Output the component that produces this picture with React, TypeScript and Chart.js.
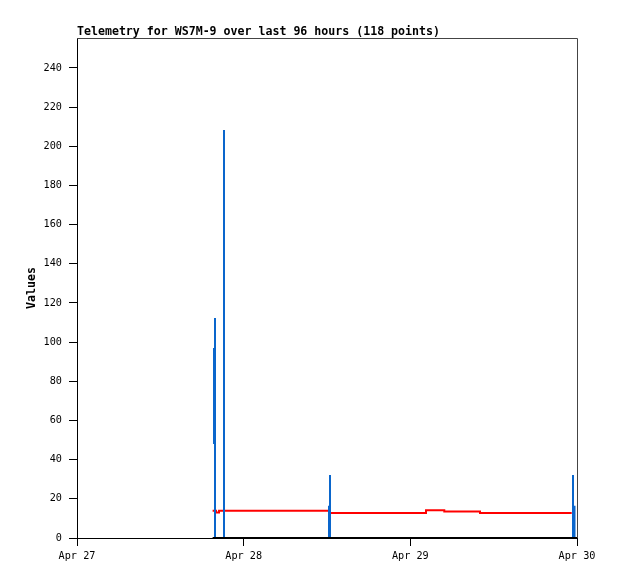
import React, { useEffect, useRef } from "react";
import { Chart, registerables } from "chart.js";

Chart.register(...registerables);

const TITLE = "Telemetry for WS7M-9 over last 96 hours (118 points)";
const Y_LABEL = "Values";
// x axis: hours since Apr 27 00:00; one tick label every 24 h
const xTickLabels = ["Apr 27", "Apr 28", "Apr 29", "Apr 30"];
const X_MAX_HOURS = 72;
const Y_MAX = 255.3;
const Y_STEP = 20;

// blue series (spikes), null = gap
const blueTimes = [
  19.728, 19.728, 19.728,
  19.872, 19.872, 19.872, 19.872,
  21.168, 21.168, 21.168, 21.168,
  36.432, 36.432, 36.432, 36.432,
  36.288, 36.288, 36.288,
  71.424, 71.424, 71.424, 71.424,
  71.64, 71.64,
];
const blueValues: (number | null)[] = [
  97, 48, null,
  0, 112.3, 0, null,
  0, 208.3, 0, null,
  0, 32.2, 0, null,
  0, 16.5, null,
  0, 32.2, 0, null,
  0, 16.5,
];

// red series (stepped)
const redTimes = [19.53, 20.02, 20.45, 36.33, 50.26, 52.89, 58.03, 71.24];
const redValues = [13.9, 13.0, 13.9, 12.8, 14.2, 13.5, 12.8, 12.8];

// black series (flat at zero)
const blackTimes = [19.53, 72];
const blackValues = [0, 0];

const FONT = "'DejaVu Sans Mono', 'Liberation Mono', monospace";

function pts(t: number[], v: (number | null)[]) {
  return t.map((x, i) => ({ x, y: v[i] }));
}

export default function App() {
  const ref = useRef<HTMLCanvasElement>(null);

  useEffect(() => {
    const canvas = ref.current;
    if (!canvas) return;

    const decor = {
      id: "decor",
      afterDraw(chart: any) {
        const { ctx, chartArea: a } = chart;
        ctx.save();
        // top & right frame
        ctx.strokeStyle = "#444444";
        ctx.lineWidth = 1;
        ctx.beginPath();
        ctx.moveTo(a.left, a.top + 0.5);
        ctx.lineTo(a.right + 0.5, a.top + 0.5);
        ctx.lineTo(a.right + 0.5, a.bottom);
        ctx.stroke();
        // title
        ctx.fillStyle = "#000";
        ctx.font = `bold 11.6px ${FONT}`;
        ctx.textAlign = "left";
        ctx.textBaseline = "alphabetic";
        ctx.fillText(TITLE, a.left, 35);
        // y label
        ctx.translate(32, (a.top + a.bottom) / 2);
        ctx.rotate(-Math.PI / 2);
        ctx.textAlign = "center";
        ctx.textBaseline = "middle";
        ctx.fillText(Y_LABEL, 0, 0);
        ctx.restore();
      },
    };

    const chart = new Chart(canvas, {
      type: "line",
      data: {
        datasets: [
          {
            data: pts(blackTimes, blackValues),
            borderColor: "#000000",
            borderWidth: 2,
            pointRadius: 0,
          },
          {
            data: pts(blueTimes, blueValues),
            borderColor: "#0a66cc",
            borderWidth: 2,
            pointRadius: 0,
            spanGaps: false,
          },
          {
            data: pts(redTimes, redValues),
            borderColor: "#ff0000",
            borderWidth: 2,
            pointRadius: 0,
            stepped: true,
          },
        ],
      } as any,
      options: {
        animation: false,
        responsive: false,
        parsing: false as any,
        normalized: true,
        layout: { padding: { left: 0, top: 38, right: 41, bottom: 0 } },
        plugins: {
          legend: { display: false },
          title: { display: false },
          tooltip: { enabled: false },
        },
        scales: {
          x: {
            type: "linear",
            min: 0,
            max: X_MAX_HOURS,
            afterFit: (s: any) => {
              s.height = 41;
            },
            border: { display: true, color: "#000", width: 1 },
            grid: {
              drawOnChartArea: false,
              drawTicks: true,
              tickLength: 8,
              color: "#000",
            },
            ticks: {
              stepSize: 24,
              includeBounds: false,
              autoSkip: false,
              maxRotation: 0,
              padding: 4,
              color: "#000",
              font: { family: FONT, size: 10.2 },
              callback: (v: any) => xTickLabels[Math.round(Number(v) / 24)] ?? "",
            },
          },
          y: {
            type: "linear",
            min: 0,
            max: Y_MAX,
            afterFit: (s: any) => {
              s.width = 77;
            },
            border: { display: true, color: "#000", width: 1 },
            grid: {
              drawOnChartArea: false,
              drawTicks: true,
              tickLength: 8,
              color: "#000",
            },
            ticks: {
              stepSize: Y_STEP,
              includeBounds: false,
              padding: 7,
              color: "#000",
              font: { family: FONT, size: 10.2 },
            },
          },
        },
      } as any,
      plugins: [decor],
    });

    return () => chart.destroy();
  }, []);

  return (
    <div
      style={{
        position: "fixed",
        left: 0,
        top: 0,
        width: 618,
        height: 579,
        background: "#ffffff",
      }}
    >
      <canvas ref={ref} width={618} height={579} style={{ display: "block" }} />
    </div>
  );
}
